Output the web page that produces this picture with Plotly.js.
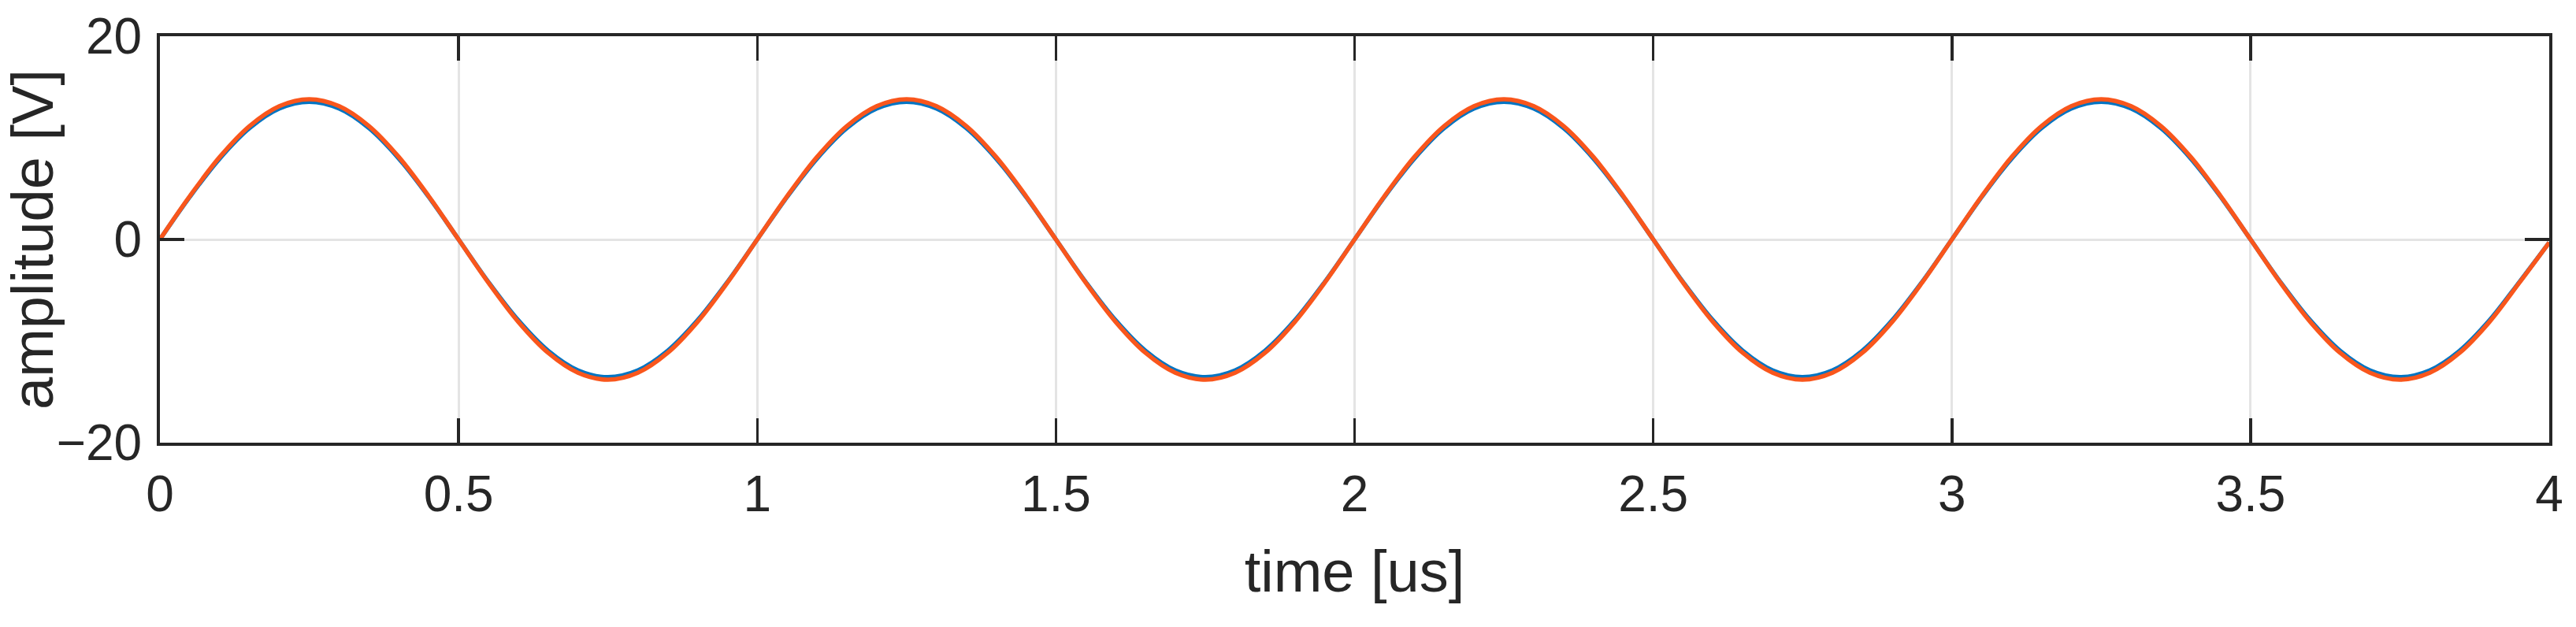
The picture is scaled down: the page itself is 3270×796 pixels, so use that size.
<!DOCTYPE html>
<html>
<head>
<meta charset="utf-8">
<script src="https://cdn.plot.ly/plotly-3.0.1.min.js"></script>
<style>
  html, body { margin: 0; padding: 0; background: #ffffff; }
  #chart { width: 3270px; height: 796px; }
</style>
</head>
<body>
<div id="chart"></div>
<script>
// time axis [us]
const time_us = [
  0.00, 0.05, 0.10, 0.15, 0.20, 0.25, 0.30, 0.35, 0.40, 0.45,
  0.50, 0.55, 0.60, 0.65, 0.70, 0.75, 0.80, 0.85, 0.90, 0.95,
  1.00, 1.05, 1.10, 1.15, 1.20, 1.25, 1.30, 1.35, 1.40, 1.45,
  1.50, 1.55, 1.60, 1.65, 1.70, 1.75, 1.80, 1.85, 1.90, 1.95,
  2.00, 2.05, 2.10, 2.15, 2.20, 2.25, 2.30, 2.35, 2.40, 2.45,
  2.50, 2.55, 2.60, 2.65, 2.70, 2.75, 2.80, 2.85, 2.90, 2.95,
  3.00, 3.05, 3.10, 3.15, 3.20, 3.25, 3.30, 3.35, 3.40, 3.45,
  3.50, 3.55, 3.60, 3.65, 3.70, 3.75, 3.80, 3.85, 3.90, 3.95,
  4.00
];

// blue series amplitude [V]
const signalBlue = [
  0, 4.19, 7.96, 10.96, 12.89, 13.55, 12.89, 10.96, 7.96, 4.19,
  0, -4.19, -7.96, -10.96, -12.89, -13.55, -12.89, -10.96, -7.96, -4.19,
  0, 4.19, 7.96, 10.96, 12.89, 13.55, 12.89, 10.96, 7.96, 4.19,
  0, -4.19, -7.96, -10.96, -12.89, -13.55, -12.89, -10.96, -7.96, -4.19,
  0, 4.19, 7.96, 10.96, 12.89, 13.55, 12.89, 10.96, 7.96, 4.19,
  0, -4.19, -7.96, -10.96, -12.89, -13.55, -12.89, -10.96, -7.96, -4.19,
  0, 4.19, 7.96, 10.96, 12.89, 13.55, 12.89, 10.96, 7.96, 4.19,
  0, -4.19, -7.96, -10.96, -12.89, -13.55, -12.89, -10.96, -7.96, -4.19,
  -0.3
];

// orange series amplitude [V]
const signalOrange = [
  0, 4.26, 8.11, 11.16, 13.12, 13.80, 13.12, 11.16, 8.11, 4.26,
  0, -4.26, -8.11, -11.16, -13.12, -13.80, -13.12, -11.16, -8.11, -4.26,
  0, 4.26, 8.11, 11.16, 13.12, 13.80, 13.12, 11.16, 8.11, 4.26,
  0, -4.26, -8.11, -11.16, -13.12, -13.80, -13.12, -11.16, -8.11, -4.26,
  0, 4.26, 8.11, 11.16, 13.12, 13.80, 13.12, 11.16, 8.11, 4.26,
  0, -4.26, -8.11, -11.16, -13.12, -13.80, -13.12, -11.16, -8.11, -4.26,
  0, 4.26, 8.11, 11.16, 13.12, 13.80, 13.12, 11.16, 8.11, 4.26,
  0, -4.26, -8.11, -11.16, -13.12, -13.80, -13.12, -11.16, -8.11, -4.26,
  -0.3
];

const xTicks = [0, 0.5, 1, 1.5, 2, 2.5, 3, 3.5, 4];
const xTickText = ['0', '0.5', '1', '1.5', '2', '2.5', '3', '3.5', '4'];
const yTicks = [-20, 0, 20];
const yTickText = ['\u221220', '0', '20'];

const FONT = 'Liberation Sans, Arial, Helvetica, sans-serif';
const INK = '#262626';

const traces = [
  {
    x: time_us, y: signalBlue, type: 'scatter', mode: 'lines',
    line: { color: '#0074C2', width: 5.5, shape: 'spline', smoothing: 1 },
    hoverinfo: 'skip', showlegend: false
  },
  {
    x: time_us, y: signalOrange, type: 'scatter', mode: 'lines',
    line: { color: '#F9561C', width: 5.5, shape: 'spline', smoothing: 1 },
    hoverinfo: 'skip', showlegend: false
  }
];

const axisCommon = {
  showline: true, linecolor: INK, linewidth: 4, mirror: 'ticks',
  ticks: 'inside', ticklen: 31, tickwidth: 3.5, tickcolor: INK,
  showgrid: true, gridcolor: '#e4e4e4', gridwidth: 3,
  zeroline: false,
  tickfont: { family: FONT, size: 64, color: INK },
  fixedrange: true
};

const layout = {
  width: 3270, height: 796,
  margin: { l: 203, r: 34, t: 46, b: 234, pad: 0 },
  paper_bgcolor: '#ffffff', plot_bgcolor: '#ffffff',
  xaxis: Object.assign({}, axisCommon, {
    range: [0, 4], tickmode: 'array', tickvals: xTicks, ticktext: xTickText,
    ticklabelstandoff: 6,
    title: { text: 'time [us]', font: { family: FONT, size: 74, color: INK }, standoff: 38 }
  }),
  yaxis: Object.assign({}, axisCommon, {
    range: [-20, 20], tickmode: 'array', tickvals: yTicks, ticktext: yTickText,
    ticklabelstandoff: 6,
    title: { text: 'amplitude [V]', font: { family: FONT, size: 74, color: INK }, standoff: 10 }
  })
};

Plotly.newPlot('chart', traces, layout, { staticPlot: true, displayModeBar: false });
</script>
</body>
</html>
